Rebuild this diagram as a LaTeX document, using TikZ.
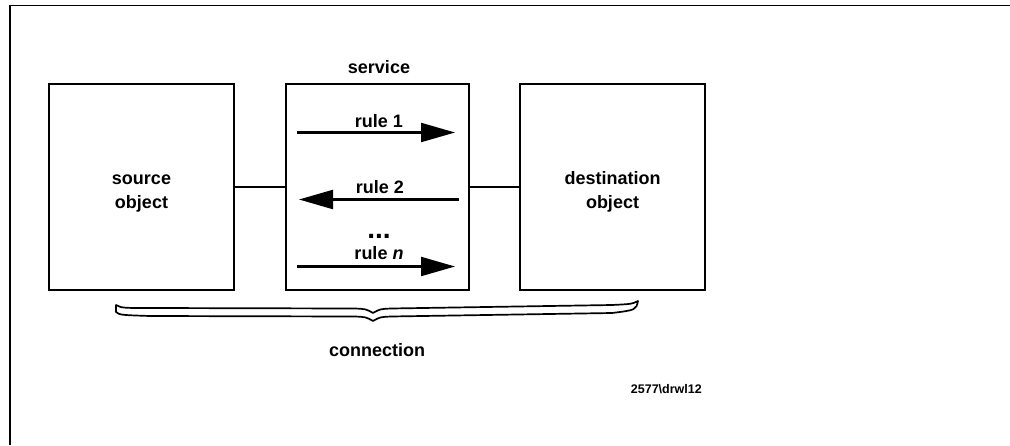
\documentclass[tikz,border=0pt]{standalone}
\usepackage{fontspec}
\setmainfont{Liberation Sans}
\usetikzlibrary{arrows.meta}
\begin{document}
\begin{tikzpicture}[x=1pt,y=-1pt,
  box/.style={draw,line width=1.6pt,inner sep=0pt,outer sep=0pt},
  lbl/.style={font=\fontsize{18}{21}\selectfont\bfseries,inner sep=0pt,anchor=base},
  small/.style={font=\fontsize{12.5}{14}\selectfont\bfseries,inner sep=0pt,anchor=base},
  link/.style={line width=1.4pt},
  rulearrow/.style={line width=2.2pt,-{Triangle[length=34pt,width=19pt]}}]
\useasboundingbox (0,0) rectangle (1010,445);
% frame edges
\draw[line width=1.6pt] (10,445) -- (10,5.5) -- (1010,5.5);
% the three blocks
\node[box,minimum width=185pt,minimum height=206pt] (src) at (141.5,187) {};
\node[box,minimum width=183pt,minimum height=206pt] (svc) at (377.5,187) {};
\node[box,minimum width=185pt,minimum height=206pt] (dst) at (612.5,187) {};
\draw[link] (src.east) -- (svc.west);
\draw[link] (svc.east) -- (dst.west);
% block texts
\node[lbl] (srct1) at (141.5,184) {source};
\node[lbl] (srct2) at (141.5,208) {object};
\node[lbl] (dstt1) at (612.5,184) {destination};
\node[lbl] (dstt2) at (612.5,208) {object};
\node[lbl] (svct) at (379,73) {service};
% rules carried by the service
\coordinate (r1a) at (297,132.5);
\coordinate (r1b) at (455,132.5);
\coordinate (r2a) at (459,199.5);
\coordinate (r2b) at (299,199.5);
\coordinate (rna) at (297,266.5);
\coordinate (rnb) at (455,266.5);
\draw[rulearrow] (r1a) -- (r1b);
\draw[rulearrow] (r2a) -- (r2b);
\draw[rulearrow] (rna) -- (rnb);
\node[lbl] (r1t) at (379,127) {rule 1};
\node[lbl] (r2t) at (380,193) {rule 2};
\node[lbl] (rnt) at (379,259) {rule \textit{n}};
\node[font=\fontsize{28}{28}\selectfont\bfseries,inner sep=0pt,anchor=base] (dots) at (379,238) {...};
% brace spanning the connection
\draw[line width=1.7pt,line join=round]
  (116,305) .. controls (122,308) .. (150,308) -- (355,308.5)
  .. controls (366,309) .. (373,313) .. controls (380,309) .. (391,308.5)
  -- (612,305) .. controls (632,304) .. (638,301)
  .. controls (636,310) .. (612,313) -- (391,316.5)
  .. controls (380,317) .. (373,321) .. controls (366,317) .. (355,316.5)
  -- (150,316) .. controls (120,315) .. (116,312) -- cycle;
\node[lbl] (conn) at (377,356) {connection};
\node[small,anchor=base east] (fig) at (702,393) {2577\textbackslash drwl12};
\end{tikzpicture}
\end{document}
